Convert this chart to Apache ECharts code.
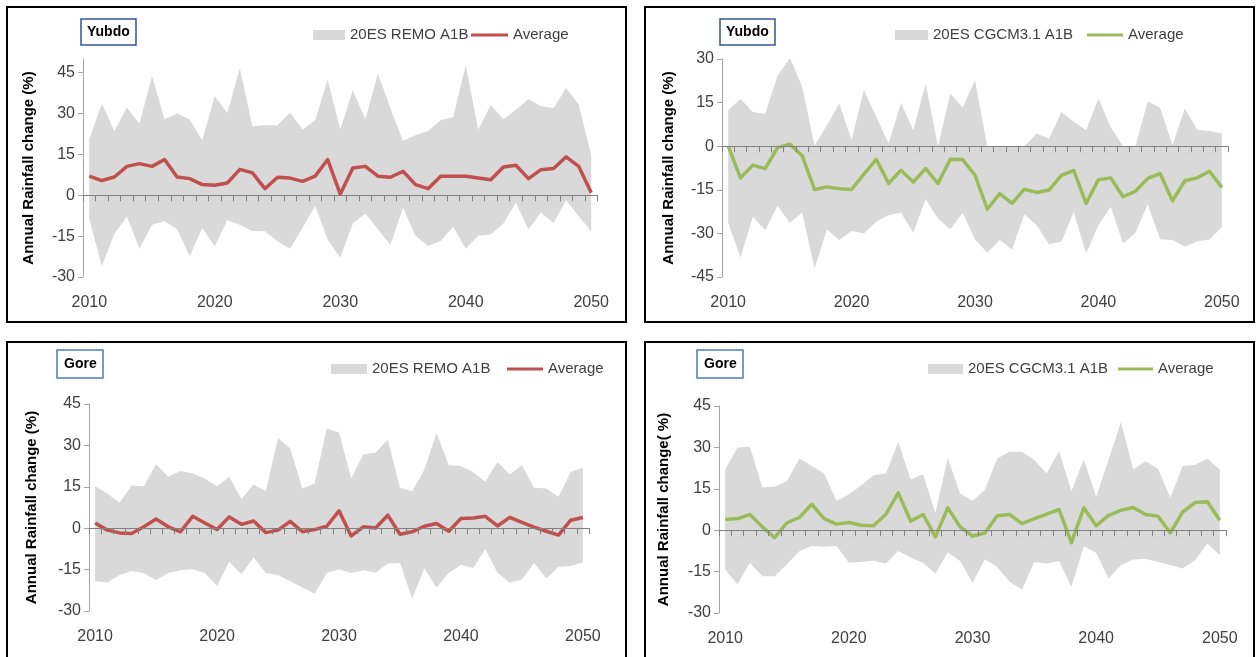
<!DOCTYPE html>
<html><head><meta charset="utf-8">
<script src="https://cdn.jsdelivr.net/npm/echarts@6/dist/echarts.min.js"></script>
<style>html,body{margin:0;padding:0;background:#fff}#c{width:1256px;height:657px}</style>
</head><body><div id="c"></div><script>
// ---- data ----
const years = ['2010','2011','2012','2013','2014','2015','2016','2017','2018','2019',
  '2020','2021','2022','2023','2024','2025','2026','2027','2028','2029',
  '2030','2031','2032','2033','2034','2035','2036','2037','2038','2039',
  '2040','2041','2042','2043','2044','2045','2046','2047','2048','2049','2050'];

const yubdoRemoAvg = [7.0,5.4,6.7,10.6,11.6,10.6,13.1,6.7,6.1,3.9, 3.7,4.5,9.5,8.2,2.4,6.6,6.3,5.1,7.0,13.1, 0.4,10.0,10.6,7.0,6.6,8.8,3.9,2.4,7.0,7.0, 7.0,6.3,5.7,10.4,11.0,6.1,9.4,9.8,14.1,10.6,0.9];
const yubdoRemoMax = [20.6,33.6,23.6,32.2,26.3,43.7,27.9,30.0,27.8,20.2, 36.3,30.2,46.5,25.3,25.7,25.7,30.3,24.1,27.5,42.5, 24.1,38.5,27.9,44.7,31.8,19.9,22.0,23.6,27.5,28.7, 47.7,24.1,33.0,27.9,31.4,35.2,32.7,32.0,39.4,33.3,14.7];
const yubdoRemoMin = [-8.6,-26.1,-14.1,-7.9,-19.6,-10.8,-9.5,-12.5,-22.4,-12.0, -18.7,-9.2,-10.8,-13.1,-13.2,-16.9,-19.6,-11.9,-3.9,-16.3, -22.9,-10.4,-6.7,-12.5,-18.3,-4.6,-14.9,-18.6,-16.8,-11.6, -19.6,-14.9,-14.4,-10.4,-2.7,-12.6,-6.3,-10.2,-1.8,-7.6,-13.2];

const yubdoCgcmAvg = [0.0,-10.9,-6.5,-7.7,-0.5,0.7,-3.3,-14.9,-14.0,-14.6, -14.9,-9.6,-4.5,-12.8,-8.3,-12.3,-7.7,-12.8,-4.5,-4.6, -10.0,-21.7,-16.3,-19.7,-14.8,-15.9,-15.1,-10.0,-8.3,-19.7, -11.5,-10.9,-17.4,-15.5,-11.1,-9.4,-18.8,-11.9,-10.9,-8.6,-14.2];
const yubdoCgcmMax = [12.4,16.2,11.8,11.2,24.2,30.4,20.4,0.2,7.2,14.7, 2.1,19.3,10.1,0.9,14.9,5.5,21.6,0.0,18.1,13.2, 22.7,0.0,0.0,0.0,0.0,4.4,2.6,11.8,8.4,5.5, 16.4,6.4,0.0,0.0,15.5,13.2,0.3,13.0,5.7,5.2,4.4];
const yubdoCgcmMin = [-26.4,-38.3,-24.3,-28.9,-20.5,-26.3,-22.8,-42.1,-28.7,-32.3, -29.2,-30.0,-26.0,-23.7,-22.9,-29.8,-18.2,-24.9,-28.7,-22.8, -32.1,-36.7,-32.3,-35.5,-23.4,-27.2,-33.7,-32.9,-22.6,-36.9, -27.2,-20.9,-33.5,-29.8,-20.0,-32.0,-32.3,-34.6,-32.7,-32.1,-27.8];

const goreRemoAvg = [1.9,-0.7,-1.7,-1.9,0.5,3.3,0.5,-1.3,4.3,1.9, -0.5,4.1,1.4,2.6,-1.6,-0.7,2.5,-1.3,-0.5,0.7, 6.3,-2.8,0.5,0.1,4.7,-2.2,-1.3,0.7,1.7,-1.1, 3.5,3.7,4.3,0.8,3.9,2.1,0.4,-1.1,-2.5,2.9,3.9];
const goreRemoMax = [15.2,12.6,9.2,15.5,15.2,23.2,18.6,20.7,19.8,18.0, 15.2,18.6,10.5,15.8,13.4,32.7,28.9,14.4,16.2,36.1, 34.7,18.0,26.8,27.3,32.1,14.7,13.4,21.3,34.5,22.8, 22.5,20.4,16.8,24.0,19.5,22.8,14.7,14.4,11.4,20.4,21.9];
const goreRemoMin = [-19.2,-19.7,-17.0,-15.5,-16.2,-18.8,-16.2,-15.2,-14.9,-16.2, -20.9,-12.2,-16.7,-10.6,-16.2,-17.0,-19.2,-21.5,-23.7,-16.2, -14.9,-16.2,-15.2,-16.1,-12.8,-12.6,-25.5,-14.6,-21.5,-16.2, -13.2,-14.4,-7.6,-16.1,-19.8,-18.6,-12.6,-18.2,-14.0,-13.7,-12.4];

const goreCgcmAvg = [3.9,4.2,5.7,1.2,-2.7,2.7,4.6,9.4,4.2,2.2, 2.8,1.8,1.6,5.8,13.5,3.3,5.7,-2.4,8.1,1.2, -2.1,-1.0,5.2,5.7,2.4,4.2,5.8,7.5,-4.5,8.1, 1.6,5.4,7.2,8.2,5.7,5.1,-1.0,6.6,10.0,10.3,3.6];
const goreCgcmMax = [22.0,30.0,30.2,15.5,15.7,17.8,26.0,23.3,20.5,10.6, 12.9,16.3,19.9,20.5,32.0,18.4,20.3,6.3,26.2,13.3, 10.6,14.7,26.0,28.4,28.4,25.4,20.5,28.7,14.1,25.7, 12.1,25.4,39.2,22.0,25.0,22.3,11.8,23.3,23.6,26.0,22.0];
const goreCgcmMin = [-14.2,-19.6,-11.8,-16.7,-16.7,-12.3,-7.6,-5.7,-6.0,-5.7, -11.8,-11.5,-11.1,-12.1,-7.5,-9.9,-11.8,-15.7,-8.1,-11.2, -19.0,-10.5,-13.3,-18.7,-21.5,-11.5,-12.1,-11.2,-20.5,-5.8, -8.2,-17.5,-12.7,-10.6,-10.3,-11.5,-12.7,-13.9,-10.9,-4.8,-9.1];

const stationNames = ['Yubdo','Yubdo','Gore','Gore'];
const modelNames = ['20ES REMO A1B','20ES CGCM3.1 A1B','20ES REMO A1B','20ES CGCM3.1 A1B'];
const avgName = 'Average';
const yTitles = ['Annual Rainfall change (%)','Annual Rainfall change (%)','Annual Rainfall change (%)','Annual Rainfall change( %)'];

// ---- styling / layout ----
const RED = '#C0504D', GREEN = '#9BBB59', GREY = '#D9D9D9';
const FONT = '"Liberation Sans", Arial, sans-serif';
const panels = [
  {avg:yubdoRemoAvg, max:yubdoRemoMax, min:yubdoRemoMin, color:RED, yMin:-30, yMax:50,
   grid:{left:83, top:59, width:514.5, height:218}, nameGap:47, frame:[7,7,619,315],
   title:{left:81, top:19, border:'#2F5597', pad:[5,6]},
   lg:{y:26, x1:313, w1:32, x2:471, w2:37}},
  {avg:yubdoCgcmAvg, max:yubdoCgcmMax, min:yubdoCgcmMin, color:GREEN, yMin:-45, yMax:30,
   grid:{left:722, top:59, width:506, height:218}, nameGap:46, frame:[645,7,609,315],
   title:{left:720, top:19, border:'#2F5597', pad:[5,6]},
   lg:{y:26, x1:895, w1:33, x2:1087, w2:36}},
  {avg:goreRemoAvg, max:goreRemoMax, min:goreRemoMin, color:RED, yMin:-30, yMax:45,
   grid:{left:89, top:404, width:500, height:207}, nameGap:50, frame:[7,342,619,330],
   title:{left:57, top:350, border:'#4A7EBB', pad:[6,7]},
   lg:{y:360, x1:331, w1:36, x2:507, w2:36}},
  {avg:goreCgcmAvg, max:goreCgcmMax, min:goreCgcmMin, color:GREEN, yMin:-30, yMax:45,
   grid:{left:719, top:406, width:507, height:207}, nameGap:48, frame:[645,342,609,330],
   title:{left:697, top:350, border:'#4A7EBB', pad:[6,7]},
   lg:{y:360, x1:928, w1:35, x2:1118, w2:35}}
];

const option = {
  backgroundColor:'#fff', animation:false,
  title:[], grid:[], xAxis:[], yAxis:[], series:[], legend:[], graphic:[]
};
const txt = {fontFamily:FONT, fontSize:15, color:'#404040', lineHeight:18};
panels.forEach((p,i)=>{
  option.graphic.push({type:'rect', silent:true, z:-10,
    shape:{x:p.frame[0], y:p.frame[1], width:p.frame[2], height:p.frame[3]},
    style:{fill:'#fff', stroke:'#000', lineWidth:2}});
  option.title.push({text:stationNames[i], left:p.title.left, top:p.title.top, padding:p.title.pad,
    borderColor:p.title.border, borderWidth:1.5,
    textStyle:{fontFamily:FONT, fontSize:14, fontWeight:'bold', color:'#000', lineHeight:16}});
  option.grid.push(Object.assign({containLabel:false}, p.grid));
  option.xAxis.push({type:'category', gridIndex:i, data:years, boundaryGap:true, position:'bottom', z:5,
    axisLine:{show:true, onZero:true, lineStyle:{color:'#808080', width:1}},
    axisTick:{show:true, interval:0, inside:false, length:6, lineStyle:{color:'#808080', width:1}},
    axisLabel:{show:false}, splitLine:{show:false}});
  option.xAxis.push({type:'category', gridIndex:i, data:years, boundaryGap:true, position:'bottom',
    axisLine:{show:false, onZero:false}, axisTick:{show:false},
    axisLabel:{interval:9, margin:18, fontSize:16, color:'#404040', fontFamily:FONT},
    splitLine:{show:false}});
  option.yAxis.push({type:'value', gridIndex:i, min:p.yMin, max:p.yMax, interval:15,
    axisLine:{show:true, lineStyle:{color:'#A6A6A6'}},
    axisTick:{show:true, length:5, lineStyle:{color:'#A6A6A6'}},
    axisLabel:{fontSize:16, color:'#404040', fontFamily:FONT, margin:8, showMaxLabel: p.yMax % 15 === 0},
    splitLine:{show:false},
    name:yTitles[i], nameLocation:'middle', nameGap:p.nameGap,
    nameTextStyle:{fontFamily:FONT, fontSize:15, fontWeight:'bold', color:'#000'}});
  const bandRange = p.max.map((v,k)=>+(v - p.min[k]).toFixed(2));
  option.series.push({type:'line', name:'base'+i, xAxisIndex:2*i, yAxisIndex:i, data:p.min,
    stack:'band'+i, stackStrategy:'all', symbol:'none', silent:true, z:1,
    lineStyle:{width:0, opacity:0}});
  option.series.push({type:'line', name:modelNames[i], xAxisIndex:2*i, yAxisIndex:i, data:bandRange,
    stack:'band'+i, stackStrategy:'all', symbol:'none', silent:true, z:1,
    lineStyle:{width:0, opacity:0}, itemStyle:{color:GREY},
    areaStyle:{color:GREY, opacity:1}});
  option.series.push({type:'line', name:avgName, xAxisIndex:2*i, yAxisIndex:i, data:p.avg,
    symbol:'none', z:3, itemStyle:{color:p.color},
    lineStyle:{color:p.color, width:3.5, join:'round'}});
  option.legend.push({left:p.lg.x1, top:p.lg.y, padding:0, itemWidth:p.lg.w1, itemHeight:10, itemGap:0,
    selectedMode:false, textStyle:txt,
    data:[{name:modelNames[i], icon:'rect', itemStyle:{color:GREY, borderWidth:0}}]});
  option.legend.push({left:p.lg.x2, top:p.lg.y, padding:0, itemWidth:p.lg.w2, itemHeight:3, itemGap:0,
    selectedMode:false, textStyle:txt,
    data:[{name:avgName, icon:'rect', itemStyle:{color:p.color, borderWidth:0}}]});
});

const chart = echarts.init(document.getElementById('c'), null, {renderer:'canvas'});
chart.setOption(option);
</script></body></html>
